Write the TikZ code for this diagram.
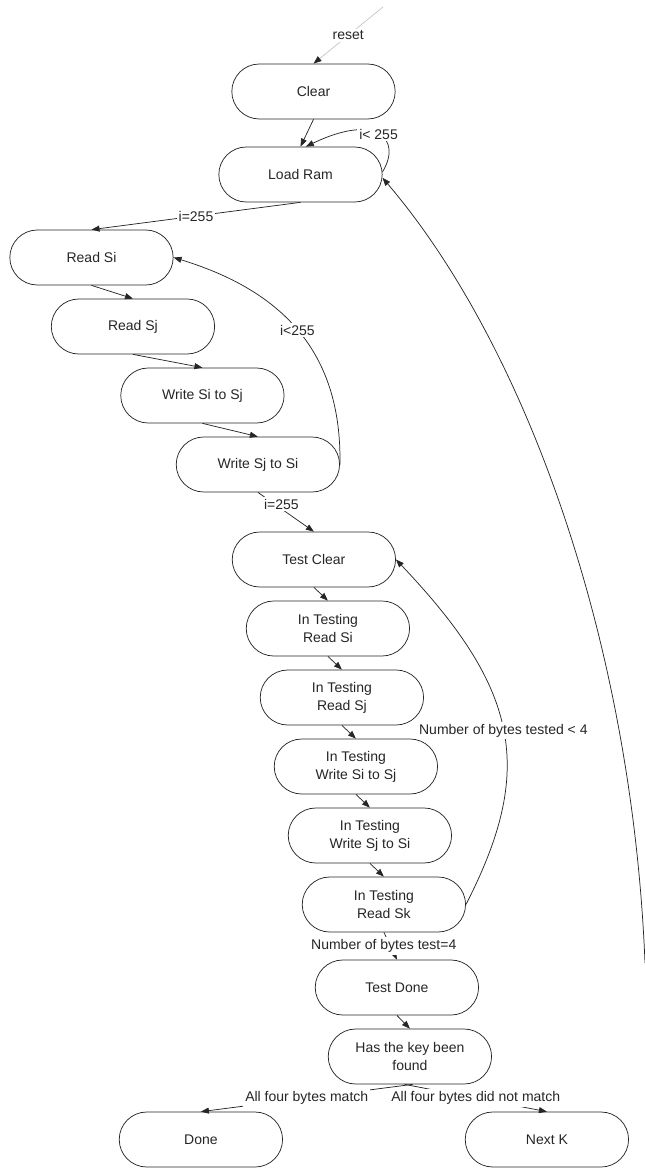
\documentclass[tikz,border=0pt]{standalone}
\usepackage{fontspec}
\setmainfont{Liberation Sans}
\usetikzlibrary{arrows.meta,shapes.misc}

\begin{document}
\begin{tikzpicture}[->,>={Triangle[length=6pt,width=4.5pt]},x=0.75pt,y=-0.75pt,
                    node distance=51.75pt,line width=0.55pt,color=black!85,
                    font=\fontsize{10.5}{13.5}\selectfont]
  \tikzstyle{sbox}=[rounded rectangle,draw,fill=white,align=center,
                    minimum width=124.5pt,minimum height=41.25pt,inner sep=1pt]
  \tikzstyle{elabel}=[fill=white,inner sep=1.5pt]

  \useasboundingbox (0,0) rectangle (645,1170);

  \node[sbox] (clear)   at (313.5,91.5)                                     {Clear};
  \node[sbox] (load)    [below of=clear,   xshift=-9.75pt,  yshift=-10.5pt] {Load Ram};
  \node[sbox] (readsi)  [below of=load,    xshift=-156.75pt, yshift=-10.5pt] {Read Si};
  \node[sbox] (readsj)  [below of=readsi,  xshift=31.1pt]                   {Read Sj};
  \node[sbox] (wsisj)   [below of=readsj,  xshift=52.1pt]                   {Write Si to Sj};
  \node[sbox] (wsjsi)   [below of=wsisj,   xshift=41.6pt]                   {Write Sj to Si};
  \node[sbox] (testclr) [below of=wsjsi,   xshift=42pt,     yshift=-19.5pt] {Test Clear};
  \node[sbox] (trdsi)   [below of=testclr, xshift=10.5pt]                   {In Testing\\Read Si};
  \node[sbox] (trdsj)   [below of=trdsi,   xshift=10.5pt]                   {In Testing\\Read Sj};
  \node[sbox] (twsisj)  [below of=trdsj,   xshift=10.5pt]                   {In Testing\\Write Si to Sj};
  \node[sbox] (twsjsi)  [below of=twsisj,  xshift=10.5pt]                   {In Testing\\Write Sj to Si};
  \node[sbox] (trdsk)   [below of=twsjsi,  xshift=10.5pt]                   {In Testing\\Read Sk};
  \node[sbox] (tdone)   [below of=trdsk,   xshift=9.75pt,   yshift=-10.5pt] {Test Done};
  \node[sbox] (haskey)  [below of=tdone,   xshift=9.75pt]                   {Has the key been\\found};
  \node[sbox] (done)    [below of=haskey,  xshift=-156.75pt, yshift=-10.5pt] {Done};
  \node[sbox] (nextk)   [below of=haskey,  xshift=102.75pt, yshift=-10.5pt] {Next K};

  \coordinate (rst)    at (383,7);
  \coordinate (farend) at (645,963);

  % reset comes in from outside
  \draw[black!22,-{Triangle[length=6pt,width=4.5pt,color=black!85]}]
        (rst) -- node[elabel,text=black!85] {reset} (clear.north);

  \path (clear.south)   edge                                              (load.north)
        (load.south)    edge node[elabel] {i=255}                         (readsi.north)
        (readsi.south)  edge                                              (readsj.north)
        (readsj.south)  edge                                              (wsisj.north)
        (wsisj.south)   edge                                              (wsjsi.north)
        (wsjsi.south)   edge node[elabel,pos=0.3,xshift=5pt] {i=255}      (testclr.north)
        (testclr.south) edge                                              (trdsi.north)
        (trdsi.south)   edge                                              (trdsj.north)
        (trdsj.south)   edge                                              (twsisj.north)
        (twsisj.south)  edge                                              (twsjsi.north)
        (twsjsi.south)  edge                                              (trdsk.north)
        (trdsk.south)   edge node[elabel,xshift=-5pt] {Number of bytes test=4} (tdone.north)
        (tdone.south)   edge                                              (haskey.north)
        ([xshift=2pt]haskey.south)  edge node[elabel] {All four bytes match}         (done.north)
        ([xshift=-4pt]haskey.south) edge node[elabel] {All four bytes did not match} (nextk.north);

  % loops back up
  \draw ([yshift=2pt]load.east) .. controls (402,140) and (378,112)
        .. node[elabel] {i< 255} ([xshift=4pt]load.north);
  \draw (wsjsi.east) .. controls (342,350) and (280,290)
        .. node[elabel] {i<255} (readsi.east);
  \draw (trdsk.east) .. controls (535,770) and (520,690)
        .. node[elabel] {Number of bytes tested < 4} (testclr.east);
  \draw (farend) .. controls (632,640) and (525,345) .. ([yshift=-2.5pt]load.east);
\end{tikzpicture}
\end{document}
